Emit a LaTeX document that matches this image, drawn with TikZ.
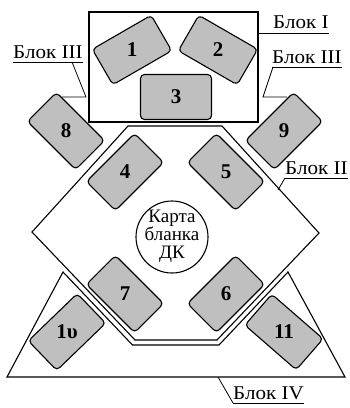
\documentclass[tikz,border=0pt]{standalone}
\usepackage{fontspec}
\setmainfont{Liberation Serif}
\newfontfamily\wideserif[FakeStretch=1.08]{Liberation Serif}
\usetikzlibrary{positioning}

\begin{document}
\begin{tikzpicture}[x=1pt, y=-1pt,
      blk/.style={draw, line width=1.1pt},
      card/.style={draw, line width=1.1pt, rounded corners=4pt, fill=gray!50,
                   minimum width=68pt, minimum height=41pt, inner sep=0pt},
      num/.style={font=\bfseries\fontsize{21}{21}\selectfont, inner sep=0pt},
      lbl/.style={font=\wideserif\fontsize{19.5}{19.5}\selectfont, inner sep=0pt},
      lead/.style={line width=0.8pt}]

    \useasboundingbox (0,0) rectangle (349,408);

    % Blocks I, II and IV
    \draw[blk] (89,12) rectangle (258,122);
    \draw[blk] (128,126) -- (222,126) -- (319,233) -- (217,340) -- (135,340) -- (32,232) -- cycle;
    \draw[blk] (7,377) -- (63,272) -- (132.5,345) -- (219,345) -- (288,272) -- (345,377) -- cycle;

    % card in the centre
    \node[draw, circle, line width=1.1pt, minimum size=72pt, inner sep=0pt] (karta) at (172,237) {};
    \node[align=center, font=\fontsize{19}{17.5}\selectfont, inner sep=0pt] (kartatxt) at ([yshift=1pt]karta.center)
      {Карта\\бланка\\ДК};

    % Block I cards
    \node[card, rotate=30] (c1) at (132,50) {};
    \node[num] at (c1) {1};
    \node[card, rotate=-30] (c2) at (218,50) {};
    \node[num] at (c2) {2};
    \node[card, minimum width=71pt, minimum height=45pt] (c3) at (176,97) {};
    \node[num] at (c3) {3};

    % Block II cards
    \node[card, rotate=45] (c4) at (125,172) {};
    \node[num] at (c4) {4};
    \node[card, rotate=-45] (c5) at (226,172) {};
    \node[num] at (c5) {5};
    \node[card, rotate=45] (c6) at (226,294) {};
    \node[num] at (c6) {6};
    \node[card, rotate=-45] (c7) at (125,294) {};
    \node[num] at (c7) {7};

    % Block III cards
    \node[card, rotate=-45] (c8) at (66,131) {};
    \node[num] at (c8) {8};
    \node[card, rotate=45] (c9) at (284,131) {};
    \node[num] at (c9) {9};

    % Block IV cards
    \node[card, rotate=44] (c10) at (67,332) {};
    \node[num] at (c10) {1υ};
    \node[card, rotate=-41] (c11) at (284,332) {};
    \node[num] at (c11) {11};

    % labels with leaders
    \node[lbl, anchor=base west] (lblI) at (273,28) {Блок I};
    \coordinate (edgeI) at (258,33);
    \draw[lead] (edgeI) -- (edgeI -| lblI.east);

    \node[lbl, anchor=base west] (lblIIIa) at (13,58) {Блок III};
    \draw[lead] ([yshift=-4pt]lblIIIa.base west) -- ([yshift=-4pt]lblIIIa.base east);
    \coordinate (footIIIa) at (72,62);
    \coordinate (kneeIIIa) at (86,97);
    \coordinate (tipIIIa) at (62,97);
    \draw[lead] (footIIIa) -- (kneeIIIa) -- (tipIIIa);

    \node[lbl, anchor=base west] (lblIIIb) at (272,63) {Блок III};
    \draw[lead] ([yshift=-4pt]lblIIIb.base west) -- ([yshift=-4pt]lblIIIb.base east);
    \coordinate (footIIIb) at (273,67);
    \coordinate (kneeIIIb) at (263,97);
    \coordinate (tipIIIb) at (287,97);
    \draw[lead] (footIIIb) -- (kneeIIIb) -- (tipIIIb);

    \node[lbl, anchor=base west] (lblII) at (285,174) {Блок II};
    \draw[lead] ([yshift=-4pt]lblII.base west) -- ([yshift=-4pt]lblII.base east);
    \coordinate (edgeII) at (278,190);
    \draw[lead] ([yshift=-4pt]lblII.base west) -- (edgeII);

    \node[lbl, anchor=base west] (lblIV) at (233,399) {Блок IV};
    \draw[lead] ([yshift=-4pt]lblIV.base west) -- ([yshift=-4pt]lblIV.base east);
    \coordinate (edgeIV) at (218,377);
    \draw[lead] ([yshift=-4pt]lblIV.base west) -- (edgeIV);

\end{tikzpicture}
\end{document}
